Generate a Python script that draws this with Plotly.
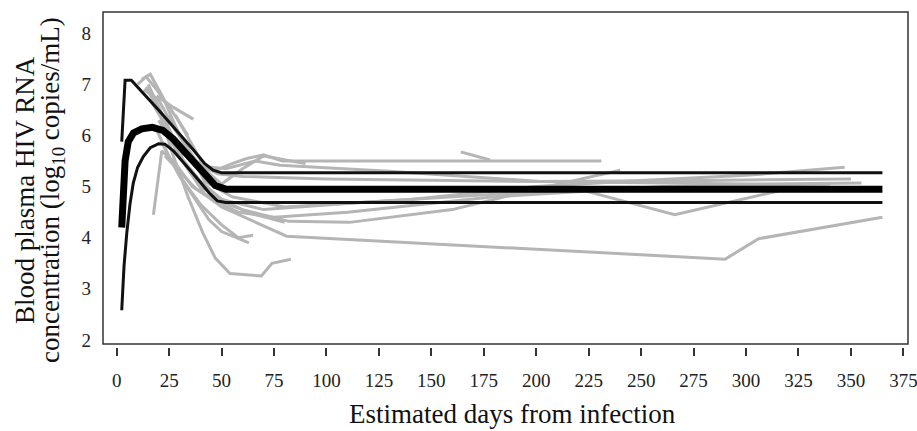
import plotly.graph_objects as go

# ---- data (days from infection, log10 copies/mL) ----
x_ticks = [0, 25, 50, 75, 100, 125, 150, 175, 200, 225, 250, 275, 300, 325, 350, 375]
y_ticks = [2, 3, 4, 5, 6, 7, 8]

# individual subjects (gray)
g01_d = [12, 16, 22, 30, 38, 46, 55, 62, 70, 79, 231]
g01_v = [7.1, 7.2, 6.75, 6.0, 5.45, 5.3, 5.45, 5.55, 5.62, 5.5, 5.5]
g02_d = [19, 27, 36.5]
g02_v = [6.78, 6.55, 6.32]
g03_d = [14, 20, 27, 34, 41, 47, 54, 69, 74, 83]
g03_v = [6.95, 6.5, 5.6, 4.8, 4.1, 3.6, 3.3, 3.25, 3.5, 3.58]
g04_d = [16, 24, 33, 42, 50, 59, 81, 290, 306, 365]
g04_v = [6.7, 6.15, 5.4, 4.85, 4.6, 4.43, 4.03, 3.58, 3.98, 4.4]
g05_d = [18, 26, 35, 44, 50, 63]
g05_v = [6.2, 5.5, 4.9, 4.35, 4.12, 3.9]
g06_d = [21, 30, 40, 50, 58, 65]
g06_v = [5.9, 5.2, 4.65, 4.25, 4.0, 4.05]
g07_d = [17.5, 21.5, 28, 36, 46, 60, 82, 111, 160, 202, 240]
g07_v = [4.45, 5.7, 5.45, 5.0, 4.75, 4.55, 4.32, 4.3, 4.55, 4.97, 5.32]
g08_d = [15, 22, 30, 40, 52, 66, 78, 130, 202, 300, 355]
g08_v = [7.0, 6.4, 5.7, 5.4, 5.35, 5.5, 5.42, 5.3, 5.1, 5.05, 5.07]
g09_d = [164, 178]
g09_v = [5.68, 5.52]
g10_d = [25, 33, 42, 55, 80, 140, 200, 250, 300, 347]
g10_v = [6.4, 5.8, 5.1, 4.8, 4.6, 4.75, 5.0, 5.12, 5.22, 5.38]
g11_d = [20, 30, 40, 50, 70, 120, 180, 221, 266, 316]
g11_v = [6.3, 5.6, 5.0, 4.75, 4.55, 4.7, 4.85, 4.94, 4.45, 4.92]
g12_d = [13, 20, 28, 38, 48, 60, 100, 200, 280, 350]
g12_v = [6.9, 6.7, 6.1, 5.5, 5.25, 5.2, 5.15, 5.1, 5.12, 5.15]
g13_d = [23, 30, 38, 47, 58, 75, 110, 180, 260, 340]
g13_v = [5.6, 5.3, 4.95, 4.7, 4.5, 4.4, 4.5, 4.8, 5.0, 5.05]
g14_d = [10, 14, 19, 26, 34]
g14_v = [7.0, 7.15, 6.9, 6.5, 6.0]
g15_d = [28, 35, 43, 50, 60, 70, 90]
g15_v = [6.4, 5.9, 5.3, 5.05, 5.35, 5.6, 5.45]
g16_d = [24, 32, 40, 50, 62, 80]
g16_v = [6.1, 5.5, 5.1, 4.75, 4.5, 4.3]

gray_series = [
    (g01_d, g01_v), (g02_d, g02_v), (g03_d, g03_v), (g04_d, g04_v),
    (g05_d, g05_v), (g06_d, g06_v), (g07_d, g07_v), (g08_d, g08_v),
    (g09_d, g09_v), (g10_d, g10_v), (g11_d, g11_v), (g12_d, g12_v),
    (g13_d, g13_v), (g14_d, g14_v), (g15_d, g15_v), (g16_d, g16_v),
]

# model fit (mean) and bounds (black)
mean_d = [2.4, 4, 5.5, 8, 12, 17, 22, 27, 32, 37, 42, 47, 52, 365]
mean_v = [4.2, 5.5, 5.88, 6.05, 6.13, 6.16, 6.1, 5.93, 5.7, 5.47, 5.22, 5.02, 4.95, 4.95]
upper_d = [2.4, 4, 7, 20.6, 36.5, 42, 46, 50, 365]
upper_v = [5.88, 7.08, 7.08, 6.47, 5.72, 5.45, 5.32, 5.27, 5.27]
lower_d = [2.4, 3.5, 4.8, 6.3, 7.9, 10, 12.7, 16, 20, 23, 27, 31, 35, 40, 44, 48, 52, 365]
lower_v = [2.58, 3.45, 4.09, 4.65, 5.07, 5.38, 5.59, 5.76, 5.84, 5.83, 5.7, 5.5, 5.32, 5.08, 4.88, 4.72, 4.69, 4.69]

FONT = "Liberation Serif, Times New Roman, serif"

fig = go.Figure()
for d, v in gray_series:
    fig.add_trace(go.Scatter(x=d, y=v, mode="lines",
                             line=dict(color="#b5b5b5", width=3),
                             showlegend=False, hoverinfo="skip"))
fig.add_trace(go.Scatter(x=upper_d, y=upper_v, mode="lines",
                         line=dict(color="#111111", width=3), showlegend=False))
fig.add_trace(go.Scatter(x=lower_d, y=lower_v, mode="lines",
                         line=dict(color="#111111", width=3), showlegend=False))
fig.add_trace(go.Scatter(x=mean_d, y=mean_v, mode="lines",
                         line=dict(color="#000000", width=7), showlegend=False))

plot_h = 431 - 12 - 84

fig.update_layout(
    width=917, height=431,
    margin=dict(l=103, r=9, t=12, b=84),
    paper_bgcolor="white", plot_bgcolor="white",
    font=dict(family=FONT, color="#222222", size=19),
    xaxis=dict(range=[-6.53, 377.2], tickmode="array", tickvals=x_ticks,
               ticks="outside", ticklen=8, tickwidth=1.5, tickcolor="#333333",
               showline=False, showgrid=False, zeroline=False, automargin=False,
               ticklabeloverflow="allow",
               ticklabelstandoff=8, tickfont=dict(size=19, family=FONT)),
    yaxis=dict(range=[1.861, 8.417], tickmode="array", tickvals=y_ticks,
               ticks="", showline=False, showgrid=False, zeroline=False, automargin=False,
               ticklabeloverflow="allow",
               ticklabelstandoff=11, tickfont=dict(size=19, family=FONT)),
    shapes=[dict(type="rect", xref="paper", yref="paper",
                 x0=0, x1=1, y0=3 / plot_h, y1=1,
                 line=dict(color="#333333", width=1.5), layer="above")],
    annotations=[
        dict(text="Estimated days from infection", xref="paper", yref="paper",
             x=(512 - 103) / 805, y=(347 - 414) / plot_h,
             xanchor="center", yanchor="middle", showarrow=False,
             font=dict(size=27, family=FONT, color="#111111")),
        dict(text="Blood plasma HIV RNA", xref="paper", yref="paper",
             x=(25 - 103) / 805, y=(347 - 190) / plot_h, textangle=-90,
             xanchor="center", yanchor="middle", showarrow=False,
             font=dict(size=27, family=FONT, color="#111111")),
        dict(text="concentration (log<sub>10</sub> copies/mL)", xref="paper", yref="paper",
             x=(52 - 103) / 805, y=(347 - 190) / plot_h, textangle=-90,
             xanchor="center", yanchor="middle", showarrow=False,
             font=dict(size=27, family=FONT, color="#111111")),
    ],
)

fig.write_html("out.html", config={"displayModeBar": False},
               post_script="document.body.style.margin='0';")
